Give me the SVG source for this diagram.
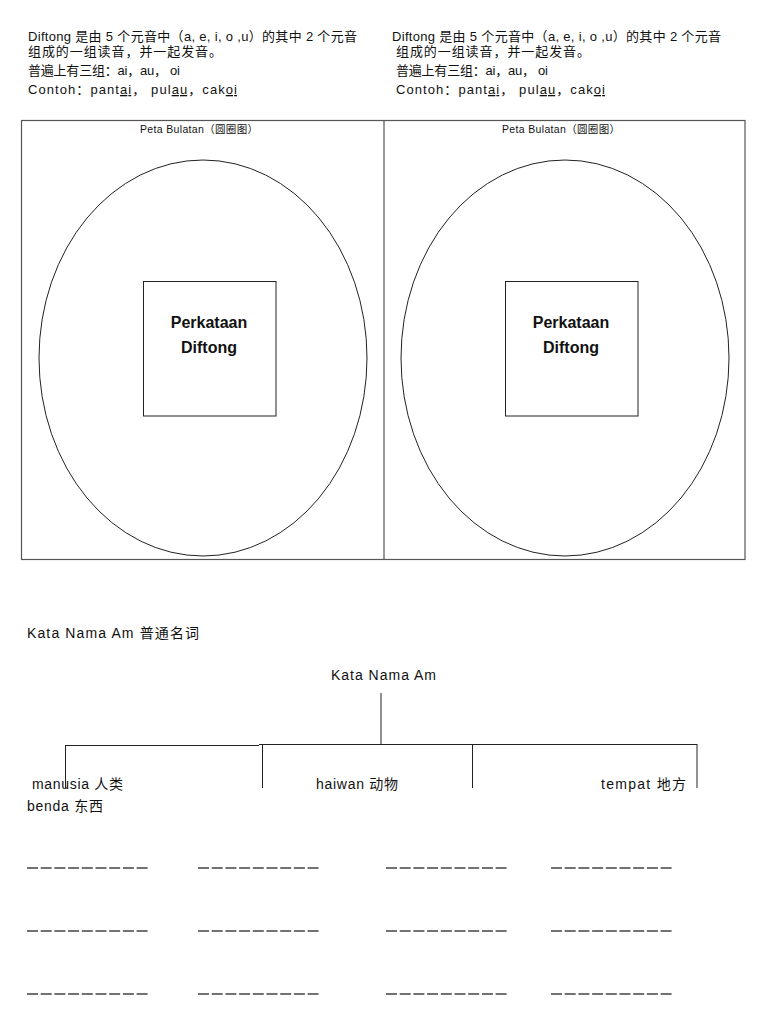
<svg xmlns="http://www.w3.org/2000/svg" width="768" height="1024" viewBox="0 0 768 1024">
<style>
text{font-family:"Liberation Sans","Noto Sans CJK SC",sans-serif;fill:#111}
.t{font-size:13px}
.m{font-size:14px}
.s{font-size:10.5px}
.b{font-size:16px;font-weight:bold;text-anchor:middle}
.u{text-decoration:underline}
.ln{stroke:#222;stroke-width:1;fill:none}
.frame{stroke:#555;stroke-width:1.2;fill:none}
.dash{stroke:#444;stroke-width:1.5;stroke-dasharray:11 2.7;fill:none}
</style>
<rect width="768" height="1024" fill="#fff"/>
<g id="intro-left">
<text class="t" x="28" y="41" textLength="329">Diftong 是由 5 个元音中（a, e, i, o ,u）的其中 2 个元音</text>
<text class="t" x="28" y="56" textLength="194">组成的一组读音，并一起发音。</text>
<text class="t" x="28" y="75" textLength="152">普遍上有三组：ai，au，  oi</text>
<text class="t" x="28" y="94" textLength="209">Contoh：pant<tspan class="u">ai</tspan>，  pul<tspan class="u">au</tspan>，cak<tspan class="u">oi</tspan></text>
</g>
<g id="intro-right">
<text class="t" x="392" y="41" textLength="329">Diftong 是由 5 个元音中（a, e, i, o ,u）的其中 2 个元音</text>
<text class="t" x="396" y="56" textLength="194">组成的一组读音，并一起发音。</text>
<text class="t" x="396" y="75" textLength="152">普遍上有三组：ai，au，  oi</text>
<text class="t" x="396" y="94" textLength="209">Contoh：pant<tspan class="u">ai</tspan>，  pul<tspan class="u">au</tspan>，cak<tspan class="u">oi</tspan></text>
</g>
<g id="frame">
<rect class="frame" x="21.5" y="120.5" width="723.5" height="439"/>
<line class="frame" x1="384" y1="120.5" x2="384" y2="559.5"/>
</g>
<g id="map-left">
<text class="s" x="140" y="133" textLength="118">Peta Bulatan（圆圈图）</text>
<ellipse class="ln" cx="203" cy="358" rx="164" ry="198"/>
<rect class="ln" x="143.5" y="281.5" width="132.5" height="134.5"/>
<text class="b" x="209" y="328">Perkataan</text>
<text class="b" x="209" y="353">Diftong</text>
</g>
<g id="map-right">
<text class="s" x="502" y="133" textLength="118">Peta Bulatan（圆圈图）</text>
<ellipse class="ln" cx="565" cy="358" rx="164" ry="198"/>
<rect class="ln" x="505.5" y="281.5" width="132.5" height="134.5"/>
<text class="b" x="571" y="328">Perkataan</text>
<text class="b" x="571" y="353">Diftong</text>
</g>
<text class="m" x="27" y="638" textLength="172">Kata Nama Am 普通名词</text>
<g id="root"><text class="m" x="331" y="680" textLength="105">Kata Nama Am</text></g>
<g id="connectors">
<line class="ln" x1="381" y1="693" x2="381" y2="744.5"/>
<line class="ln" x1="65" y1="745.5" x2="259" y2="745.5"/>
<line class="ln" x1="259" y1="744.5" x2="697" y2="744.5"/>
<line class="ln" x1="65.5" y1="745" x2="65.5" y2="788"/>
<line class="ln" x1="262.5" y1="744" x2="262.5" y2="788"/>
<line class="ln" x1="472.5" y1="744" x2="472.5" y2="788"/>
<line class="ln" x1="697" y1="744" x2="697" y2="788"/>
</g>
<g id="manusia"><text class="m" x="32" y="789" textLength="91">manusia 人类</text></g>
<g id="benda"><text class="m" x="27" y="811" textLength="76">benda 东西</text></g>
<g id="haiwan"><text class="m" x="316" y="789" textLength="82">haiwan 动物</text></g>
<g id="tempat"><text class="m" x="601" y="789" textLength="85">tempat 地方</text></g>
<g id="blanks">
<line class="dash" x1="27" y1="868" x2="150" y2="868"/>
<line class="dash" x1="198" y1="868" x2="320" y2="868"/>
<line class="dash" x1="386" y1="868" x2="508" y2="868"/>
<line class="dash" x1="551" y1="868" x2="673" y2="868"/>
<line class="dash" x1="27" y1="931" x2="150" y2="931"/>
<line class="dash" x1="198" y1="931" x2="320" y2="931"/>
<line class="dash" x1="386" y1="931" x2="508" y2="931"/>
<line class="dash" x1="551" y1="931" x2="673" y2="931"/>
<line class="dash" x1="27" y1="994" x2="150" y2="994"/>
<line class="dash" x1="198" y1="994" x2="320" y2="994"/>
<line class="dash" x1="386" y1="994" x2="508" y2="994"/>
<line class="dash" x1="551" y1="994" x2="673" y2="994"/>
</g>
</svg>
